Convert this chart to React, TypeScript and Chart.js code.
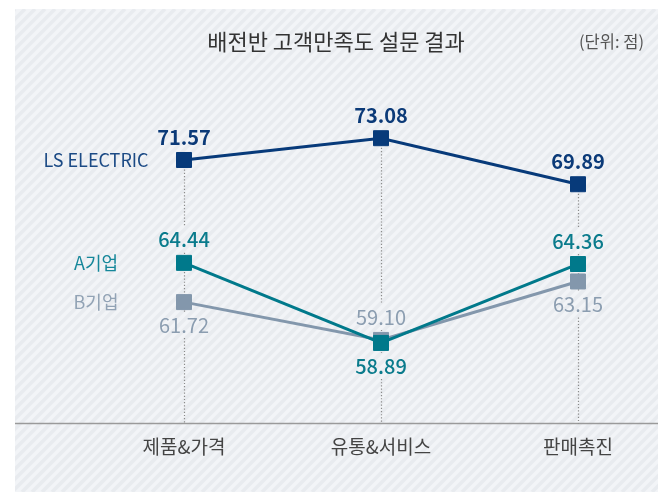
import React, { useEffect, useRef } from 'react';
import { Chart, registerables } from 'chart.js';

Chart.register(...registerables);

const categories = ['제품&가격', '유통&서비스', '판매촉진'];
const seriesNames = ['LS ELECTRIC', 'A기업', 'B기업'];
const lsValues = [71.57, 73.08, 69.89];
const aValues = [64.44, 58.89, 64.36];
const bValues = [61.72, 59.1, 63.15];
const titleText = '배전반 고객만족도 설문 결과';
const unitText = '(단위: 점)';

const FONT = '"Noto Sans CJK KR", "Noto Sans", sans-serif';
const lineColors = ['#073a7a', '#00798b', '#8397ac'];
const labelColors = ['#0b3a78', '#0a7b8c', '#8b9db0'];
const nameColors = ['#1b4a85', '#15879a', '#92a3b5'];
const labelWeights = ['bold', '500', 'normal'];
// -1 = label above the point, 1 = below
const labelPlacement = [
  [-1, -1, -1],
  [-1, 1, -1],
  [1, -1, 1],
];
const LABEL_OFFSET = 23;

const fmt = (v: number) => v.toFixed(2);

const decorPlugin = {
  id: 'decor',
  beforeDraw(chart: any) {
    const { ctx, height } = chart;
    const x0 = 15, y0 = 9, x1 = 658, y1 = height;
    ctx.save();
    ctx.beginPath();
    ctx.rect(x0, y0, x1 - x0, y1 - y0);
    ctx.clip();
    ctx.fillStyle = '#f2f4f7';
    ctx.fillRect(x0, y0, x1 - x0, y1 - y0);
    ctx.strokeStyle = '#e8ebef';
    ctx.lineWidth = 3.5;
    const h = y1 - y0;
    for (let k = x0 - h; k < x1 + 10; k += 10) {
      ctx.beginPath();
      ctx.moveTo(k, y1);
      ctx.lineTo(k + h, y0);
      ctx.stroke();
    }
    ctx.restore();

    ctx.save();
    ctx.textBaseline = 'middle';
    ctx.fillStyle = '#333';
    ctx.font = `22px ${FONT}`;
    ctx.textAlign = 'center';
    ctx.fillText(titleText, 336, 42);
    ctx.fillStyle = '#555';
    ctx.font = `16.5px ${FONT}`;
    ctx.textAlign = 'right';
    ctx.fillText(unitText, 644, 42);
    const ca = chart.chartArea;
    ctx.strokeStyle = '#9a9a9a';
    ctx.lineWidth = 1.5;
    ctx.beginPath();
    ctx.moveTo(x0, ca.bottom);
    ctx.lineTo(x1, ca.bottom);
    ctx.stroke();
    ctx.restore();
  },
  beforeDatasetsDraw(chart: any) {
    const { ctx } = chart;
    const ca = chart.chartArea;
    const n = chart.data.datasets.length;
    ctx.save();
    ctx.strokeStyle = '#8a8a8a';
    ctx.lineWidth = 1.2;
    ctx.setLineDash([1.2, 2]);
    for (let i = 0; i < categories.length; i++) {
      let top = Infinity;
      let x = 0;
      const gaps: [number, number][] = [];
      for (let d = 0; d < n; d++) {
        const p = chart.getDatasetMeta(d).data[i];
        x = p.x;
        top = Math.min(top, p.y);
        const ly = p.y + labelPlacement[d][i] * LABEL_OFFSET;
        gaps.push([ly - 13, ly + 13]);
      }
      gaps.sort((a, b) => a[0] - b[0]);
      let cur = top;
      const xs = Math.round(x) + 0.5;
      for (const g of gaps) {
        if (g[0] > cur) {
          ctx.beginPath();
          ctx.moveTo(xs, cur);
          ctx.lineTo(xs, Math.min(g[0], ca.bottom));
          ctx.stroke();
        }
        cur = Math.max(cur, g[1]);
      }
      if (cur < ca.bottom) {
        ctx.beginPath();
        ctx.moveTo(xs, cur);
        ctx.lineTo(xs, ca.bottom);
        ctx.stroke();
      }
    }
    ctx.restore();
  },
  afterDatasetsDraw(chart: any) {
    const { ctx } = chart;
    ctx.save();
    ctx.textAlign = 'center';
    ctx.textBaseline = 'middle';
    chart.data.datasets.forEach((ds: any, d: number) => {
      const meta = chart.getDatasetMeta(d);
      ctx.fillStyle = labelColors[d];
      ctx.font = `${labelWeights[d]} 20px ${FONT}`;
      meta.data.forEach((p: any, i: number) => {
        ctx.fillText(fmt(ds.data[i]), p.x, p.y + labelPlacement[d][i] * LABEL_OFFSET);
      });
      ctx.font = `18px ${FONT}`;
      ctx.fillStyle = nameColors[d];
      ctx.fillText(seriesNames[d], 96, meta.data[0].y);
    });
    ctx.restore();
  },
};

export default function App() {
  const ref = useRef<HTMLCanvasElement | null>(null);
  useEffect(() => {
    if (!ref.current) return;
    const values = [lsValues, aValues, bValues];
    const chart = new Chart(ref.current, {
      type: 'line',
      data: {
        labels: categories,
        datasets: values.map((vals, d) => ({
          label: seriesNames[d],
          data: vals,
          borderColor: lineColors[d],
          backgroundColor: lineColors[d],
          pointBackgroundColor: lineColors[d],
          pointBorderColor: lineColors[d],
          pointStyle: 'rect',
          pointRadius: 10.6,
          pointBorderWidth: 1,
          borderWidth: 3,
          tension: 0,
          clip: false,
        })),
      },
      options: {
        responsive: false,
        animation: false,
        devicePixelRatio: 1,
        layout: { padding: { left: 184, right: 88, top: 60, bottom: 21.6 } },
        plugins: { legend: { display: false }, tooltip: { enabled: false }, title: { display: false } },
        scales: {
          x: {
            offset: false,
            grid: { display: false, drawTicks: false },
            border: { display: false },
            ticks: { font: { family: FONT, size: 19 }, color: '#444', padding: 12 },
          },
          y: { display: false, min: 53.3, max: 78.5 },
        },
      },
      plugins: [decorPlugin],
    });
    return () => chart.destroy();
  }, []);
  return (
    <div style={{ position: 'absolute', left: 0, top: 0, width: 666, height: 492 }}>
      <canvas ref={ref} width={666} height={492} />
    </div>
  );
}
